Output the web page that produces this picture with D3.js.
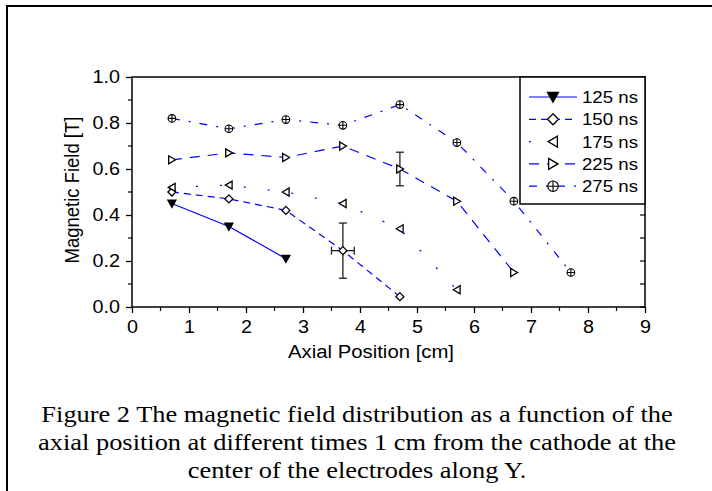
<!DOCTYPE html>
<html>
<head>
<meta charset="utf-8">
<script src="https://cdn.jsdelivr.net/npm/d3@7"></script>
<style>
  body { margin: 0; background: #fff; }
  text { font-family: "Liberation Sans", Arial, sans-serif; }
  .caption { font-family: "Liberation Serif", "Times New Roman", serif; }
</style>
</head>
<body>
<script>
// chart values
var xTicks = [0, 1, 2, 3, 4, 5, 6, 7, 8, 9];
var yTicks = [0.0, 0.2, 0.4, 0.6, 0.8, 1.0];
var positions = [0.7, 1.7, 2.7, 3.7, 4.7, 5.7, 6.7, 7.7];

var field125 = [0.45, 0.35, 0.21];
var field150 = [0.50, 0.47, 0.42, 0.245, 0.045];
var field175 = [0.52, 0.53, 0.50, 0.45, 0.34, 0.075];
var field225 = [0.64, 0.67, 0.65, 0.70, 0.60, 0.46, 0.15];
var field275 = [0.82, 0.775, 0.815, 0.79, 0.88, 0.715, 0.46, 0.15];

// error bars: [series, point index, x error, y error]
var errorBars = [
  ["150 ns", 3, 0.2, 0.12],
  ["225 ns", 4, 0, 0.073]
];

var captionLines = [
  "Figure 2 The magnetic field distribution as a function of the",
  "axial position at different times 1 cm from the cathode at the",
  "center of the electrodes along Y."
];

var series = [
  { name: "125 ns", values: field125, dash: null, marker: "down" },
  { name: "150 ns", values: field150, dash: "7,5", marker: "diamond" },
  { name: "175 ns", values: field175, dash: "2,22", marker: "left" },
  { name: "225 ns", values: field225, dash: "10,8", marker: "right" },
  { name: "275 ns", values: field275, dash: "8,9,2,9", marker: "cross" }
];

var w = 712, h = 491;
var plotL = 132, plotR = 645, plotT = 77, plotB = 307;
var stretch = 1.13; // the scan's lettering is a bit wider than tall

var svg = d3.select("body").append("svg")
  .attr("width", w)
  .attr("height", h);

// outer frame (runs off the right edge like the scan)
svg.append("rect")
  .attr("x", 7).attr("y", 6)
  .attr("width", 730).attr("height", 500)
  .attr("fill", "none")
  .attr("stroke", "#000")
  .attr("stroke-width", 2);

var x = d3.scaleLinear().domain([0, 9]).range([plotL, plotR]);
var y = d3.scaleLinear().domain([0, 1]).range([plotB, plotT]);

// marker shapes
function markerPath(type, s) {
  if (type === "down") return "M" + (-s) + "," + (-s * 0.85) + "L" + s + "," + (-s * 0.85) + "L0," + (s * 0.95) + "Z";
  if (type === "diamond") return "M0," + (-s) + "L" + s + ",0L0," + s + "L" + (-s) + ",0Z";
  if (type === "left") return "M" + (-s * 0.9) + ",0L" + (s * 0.8) + "," + (-s) + "L" + (s * 0.8) + "," + s + "Z";
  if (type === "right") return "M" + (s * 0.9) + ",0L" + (-s * 0.8) + "," + (-s) + "L" + (-s * 0.8) + "," + s + "Z";
  return null;
}

function drawMarker(g, type, s) {
  if (type === "cross") {
    g.append("circle").attr("r", s * 0.95).attr("fill", "#fff").attr("stroke", "#000").attr("stroke-width", 1.1);
    g.append("path").attr("d", "M" + (-s) + ",0H" + s + "M0," + (-s) + "V" + s)
      .attr("stroke", "#000").attr("stroke-width", 1.1);
  } else {
    g.append("path").attr("d", markerPath(type, s))
      .attr("fill", type === "down" ? "#000" : "#fff")
      .attr("stroke", "#000")
      .attr("stroke-width", 1.3);
  }
}

// axes
var xAxis = d3.axisBottom(x).tickValues(xTicks).tickSize(6).tickPadding(3).tickFormat(d3.format("d"));
var yAxis = d3.axisLeft(y).tickValues(yTicks).tickSize(6).tickPadding(3).tickFormat(d3.format(".1f"));

var gx = svg.append("g")
  .attr("transform", "translate(0," + plotB + ")")
  .call(xAxis);
var gy = svg.append("g")
  .attr("transform", "translate(" + plotL + ",0)")
  .call(yAxis);

[gx, gy].forEach(function(g) {
  g.select(".domain").remove();
  g.selectAll(".tick line").attr("stroke", "#000").attr("stroke-width", 1.3);
  g.selectAll("text").attr("font-size", 17.5).attr("fill", "#000");
});
gx.selectAll("text")
  .attr("dy", "0.95em")
  .attr("transform", "scale(" + stretch + ",1)");
gy.selectAll("text")
  .attr("x", null)
  .attr("transform", "translate(-12,0) scale(" + stretch + ",1)");

// minor ticks
var xMinor = d3.range(0.5, 9, 1);
var yMinor = d3.range(0.1, 1, 0.2);
svg.append("g").selectAll("line").data(xMinor).enter().append("line")
  .attr("x1", function(d) { return x(d); }).attr("x2", function(d) { return x(d); })
  .attr("y1", plotB).attr("y2", plotB + 4)
  .attr("stroke", "#000").attr("stroke-width", 1.2);
svg.append("g").selectAll("line").data(yMinor).enter().append("line")
  .attr("x1", plotL - 4).attr("x2", plotL)
  .attr("y1", function(d) { return y(d); }).attr("y2", function(d) { return y(d); })
  .attr("stroke", "#000").attr("stroke-width", 1.2);
// right axis ticks, pointing inward
svg.append("g").selectAll("line").data(yTicks.concat(yMinor)).enter().append("line")
  .attr("x1", plotR - 5).attr("x2", plotR)
  .attr("y1", function(d) { return y(d); }).attr("y2", function(d) { return y(d); })
  .attr("stroke", "#000").attr("stroke-width", 1.2);

// plot frame
svg.append("rect")
  .attr("x", plotL).attr("y", plotT)
  .attr("width", plotR - plotL).attr("height", plotB - plotT)
  .attr("fill", "none")
  .attr("stroke", "#000")
  .attr("stroke-width", 1.5);

// series lines
var line = d3.line()
  .x(function(d) { return x(d[0]); })
  .y(function(d) { return y(d[1]); });

series.forEach(function(s) {
  var pts = s.values.map(function(v, i) { return [positions[i], v]; });
  svg.append("path")
    .datum(pts)
    .attr("d", line)
    .attr("fill", "none")
    .attr("stroke", "#0000ff")
    .attr("stroke-width", 1.2)
    .attr("stroke-dasharray", s.dash);
});

// error bars
errorBars.forEach(function(e) {
  var s = series.filter(function(d) { return d.name === e[0]; })[0];
  var px = positions[e[1]], py = s.values[e[1]];
  var g = svg.append("g").attr("stroke", "#222").attr("stroke-width", 1.3);
  g.append("line")
    .attr("x1", x(px)).attr("x2", x(px))
    .attr("y1", y(py - e[3])).attr("y2", y(py + e[3]));
  [py - e[3], py + e[3]].forEach(function(v) {
    g.append("line").attr("x1", x(px) - 4).attr("x2", x(px) + 4)
      .attr("y1", y(v)).attr("y2", y(v));
  });
  if (e[2] > 0) {
    g.append("line")
      .attr("x1", x(px - e[2])).attr("x2", x(px + e[2]))
      .attr("y1", y(py)).attr("y2", y(py));
    [px - e[2], px + e[2]].forEach(function(v) {
      g.append("line").attr("x1", x(v)).attr("x2", x(v))
        .attr("y1", y(py) - 4).attr("y2", y(py) + 4);
    });
  }
});

// markers
series.forEach(function(s) {
  s.values.forEach(function(v, i) {
    var g = svg.append("g")
      .attr("transform", "translate(" + x(positions[i]) + "," + y(v) + ")");
    drawMarker(g, s.marker, 4);
  });
});

// legend
var lgX = 520, lgY = plotT, rowH = 22.3;
svg.append("rect")
  .attr("x", lgX).attr("y", lgY)
  .attr("width", plotR - lgX).attr("height", 127)
  .attr("fill", "#fff")
  .attr("stroke", "#000")
  .attr("stroke-width", 1.5);

series.forEach(function(s, i) {
  var cy = lgY + 20 + i * rowH;
  svg.append("line")
    .attr("x1", lgX + 9).attr("x2", lgX + 57)
    .attr("y1", cy).attr("y2", cy)
    .attr("stroke", "#0000ff")
    .attr("stroke-width", 1.2)
    .attr("stroke-dasharray", s.dash);
  var m = svg.append("g").attr("transform", "translate(" + (lgX + 33) + "," + cy + ")");
  drawMarker(m, s.marker, 5.5);
  svg.append("text")
    .attr("transform", "translate(" + (lgX + 62) + "," + (cy + 6) + ") scale(" + stretch + ",1)")
    .attr("font-size", 16.5)
    .text(s.name);
});

// axis titles
svg.append("text")
  .attr("transform", "translate(371,358) scale(" + stretch + ",1)")
  .attr("text-anchor", "middle")
  .attr("font-size", 18)
  .text("Axial Position [cm]");

svg.append("text")
  .attr("transform", "translate(79,190) rotate(-90) scale(1," + stretch + ")")
  .attr("text-anchor", "middle")
  .attr("font-size", 18.5)
  .text("Magnetic Field [T]");

// caption
svg.selectAll(".caption").data(captionLines).enter().append("text")
  .attr("class", "caption")
  .attr("transform", function(d, i) {
    return "translate(357," + (422 + i * 28) + ") scale(1.1,1)";
  })
  .attr("text-anchor", "middle")
  .attr("font-size", 24)
  .text(function(d) { return d; });
</script>
</body>
</html>
